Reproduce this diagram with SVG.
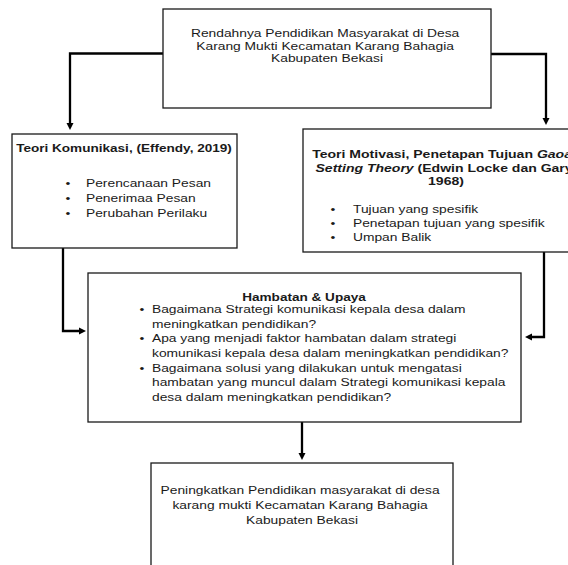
<svg xmlns="http://www.w3.org/2000/svg" width="568" height="565" viewBox="0 0 568 565">
<defs>
<style>
.box{fill:#fff;stroke:#1a1a1a;stroke-width:1.3}
.conn{fill:none;stroke:#000;stroke-width:2.3}
text{font-family:"Liberation Sans",Arial,sans-serif;font-size:11.7px;fill:#1a1a1a}
.b{font-weight:bold}
.i{font-style:italic}
.mid{text-anchor:middle}
</style>
<marker id="ah" markerWidth="8" markerHeight="8" refX="3" refY="4" orient="auto" markerUnits="userSpaceOnUse">
<path d="M0,0.5 L7,4 L0,7.5 z" fill="#000"/>
</marker>
</defs>
<rect width="568" height="565" fill="#fff"/>

<g id="connectors">
<path class="conn" d="M163,53.5 H70 V126" marker-end="url(#ah)"/>
<path class="conn" d="M491,54 H546 V121" marker-end="url(#ah)"/>
<path class="conn" d="M63,248 V331 H82" marker-end="url(#ah)"/>
<path class="conn" d="M544,252 V337 H529" marker-end="url(#ah)"/>
<path class="conn" d="M302,422 V456" marker-end="url(#ah)"/>
</g>

<g id="node-top">
<rect class="box" x="163" y="9" width="328" height="99"/>
<text class="mid" transform="translate(327,0) scale(1.18,1)">
<tspan x="0" y="37.5">Rendahnya Pendidikan Masyarakat di Desa</tspan>
<tspan x="0" y="50">Karang Mukti Kecamatan Karang Bahagia</tspan>
<tspan x="0" y="62.5">Kabupaten Bekasi</tspan>
</text>
</g>

<g id="node-komunikasi">
<rect class="box" x="12" y="134" width="225" height="114"/>
<text class="mid b" transform="translate(124,0) scale(1.16,1)"><tspan x="0" y="152.5">Teori Komunikasi, (Effendy, 2019)</tspan></text>
<text transform="translate(65.5,0) scale(1.18,1)">
<tspan x="0" y="187.5">•</tspan><tspan x="0" y="202.5">•</tspan><tspan x="0" y="217">•</tspan>
</text>
<text transform="translate(86,0) scale(1.18,1)">
<tspan x="0" y="187.5">Perencanaan Pesan</tspan>
<tspan x="0" y="202.5">Penerimaa Pesan</tspan>
<tspan x="0" y="217">Perubahan Perilaku</tspan>
</text>
</g>

<g id="node-motivasi">
<rect class="box" x="303" y="129" width="300" height="123"/>
<text class="mid b" transform="translate(446,0) scale(1.2,1)">
<tspan x="0" y="157.7">Teori Motivasi, Penetapan Tujuan <tspan class="i">Gaoal</tspan></tspan>
<tspan x="0" y="171.7"><tspan class="i">Setting Theory</tspan> (Edwin Locke dan Gary</tspan>
<tspan x="0" y="185.2">1968)</tspan>
</text>
<text transform="translate(330.5,0) scale(1.18,1)">
<tspan x="0" y="213.5">•</tspan><tspan x="0" y="227.5">•</tspan><tspan x="0" y="241.5">•</tspan>
</text>
<text transform="translate(353,0) scale(1.18,1)">
<tspan x="0" y="213.5">Tujuan yang spesifik</tspan>
<tspan x="0" y="227.5">Penetapan tujuan yang spesifik</tspan>
<tspan x="0" y="241.5">Umpan Balik</tspan>
</text>
</g>

<g id="node-hambatan">
<rect class="box" x="88" y="273" width="433" height="149"/>
<text class="mid b" transform="translate(304,0) scale(1.16,1)"><tspan x="0" y="300.6">Hambatan &amp; Upaya</tspan></text>
<text transform="translate(139.5,0) scale(1.18,1)">
<tspan x="0" y="312.9">•</tspan><tspan x="0" y="342.3">•</tspan><tspan x="0" y="371.7">•</tspan>
</text>
<text transform="translate(152,0) scale(1.18,1)">
<tspan x="0" y="312.9">Bagaimana Strategi komunikasi kepala desa dalam</tspan>
<tspan x="0" y="327.6">meningkatkan pendidikan?</tspan>
<tspan x="0" y="342.3">Apa yang menjadi faktor hambatan dalam strategi</tspan>
<tspan x="0" y="357">komunikasi kepala desa dalam meningkatkan pendidikan?</tspan>
<tspan x="0" y="371.7">Bagaimana solusi yang dilakukan untuk mengatasi</tspan>
<tspan x="0" y="386.4">hambatan yang muncul dalam Strategi komunikasi kepala</tspan>
<tspan x="0" y="401">desa dalam meningkatkan pendidikan?</tspan>
</text>
</g>

<g id="node-bottom">
<rect class="box" x="151" y="463" width="302" height="140"/>
<text class="mid" transform="translate(302,0) scale(1.18,1)">
<tspan x="0" y="494.5">Peningkatkan Pendidikan masyarakat di desa</tspan>
<tspan x="0" y="509.5">karang mukti Kecamatan Karang Bahagia</tspan>
<tspan x="0" y="524.5">Kabupaten Bekasi</tspan>
</text>
</g>
</svg>
